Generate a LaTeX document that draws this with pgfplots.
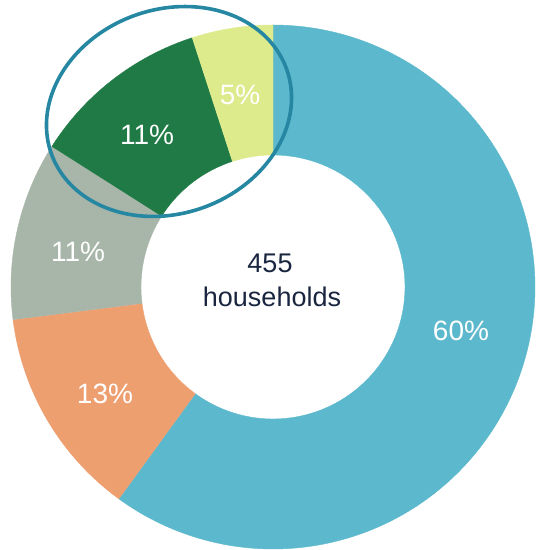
\documentclass[border=0pt]{standalone}
\usepackage{pgfplots}
\pgfplotsset{compat=1.18}
\usepackage{fontspec}
\setmainfont{Liberation Sans}
\definecolor{cblue}{HTML}{5CB8CC}
\definecolor{corange}{HTML}{EE9F70}
\definecolor{cgray}{HTML}{A7B6A9}
\definecolor{cdkgreen}{HTML}{1F7A45}
\definecolor{cyellow}{HTML}{DDEB8C}
\definecolor{cring}{HTML}{2687A2}
\definecolor{cnavy}{HTML}{1A2540}
% outer and inner radius
\def\Ro{262}
\def\Ri{132}
% slice from cumulative percent #1 to #2, clockwise from 12 o'clock
\newcommand{\slice}[3]{%
  \addplot[fill=#3, draw=#3, line width=0.4pt, domain=0:2, samples=401, variable=\t]
  ({((\t<=1)*\Ro + (\t>1)*\Ri)*cos((\t<=1)*(90-3.6*#1-3.6*(#2-#1)*min(1.05*\t,1)) + (\t>1)*(90-3.6*#2+3.6*(#2-#1)*max(1.05*(\t-1)-0.05,0)))},
   {((\t<=1)*\Ro + (\t>1)*\Ri)*sin((\t<=1)*(90-3.6*#1-3.6*(#2-#1)*min(1.05*\t,1)) + (\t>1)*(90-3.6*#2+3.6*(#2-#1)*max(1.05*(\t-1)-0.05,0)))});
}
\begin{document}
\begin{tikzpicture}
\begin{axis}[
  scale only axis, width=535bp, height=550bp,
  xmin=-273, xmax=262, ymin=-263, ymax=287,
  hide axis, clip=true,
]
% shares: 60, 13, 11, 11, 5 (percent), cumulative bounds below
\slice{0}{60}{cblue}
\slice{60}{73}{corange}
\slice{73}{84}{cgray}
\slice{84}{95}{cdkgreen}
\slice{95}{100}{cyellow}
% highlight ellipse
\addplot[draw=cring, line width=3.6bp, line join=round, domain=0:360, samples=181, variable=\u]
  ({-104 + 125*cos(\u)*cos(20) - 102*sin(\u)*sin(20)},
   {175.5 + 125*cos(\u)*sin(20) + 102*sin(\u)*cos(20)});
\begin{scope}[every node/.style={text=white, font=\fontsize{28bp}{30bp}\selectfont, inner sep=0pt}]
\node at (axis cs:188,-44) {60\%};
\node at (axis cs:-168,-107) {13\%};
\node at (axis cs:-195,35) {11\%};
\node at (axis cs:-126,152) {11\%};
\node at (axis cs:-33,192) {5\%};
\end{scope}
\node[text=cnavy, font=\fontsize{27bp}{30bp}\selectfont, anchor=base, inner sep=0pt] at (axis cs:-3,14) {455};
\node[text=cnavy, font=\fontsize{27bp}{30bp}\selectfont, anchor=base, inner sep=0pt] at (axis cs:-1,-20) {households};
\end{axis}
\pgfresetboundingbox
\path (current axis.south west) rectangle (current axis.north east);
\end{tikzpicture}
\end{document}
